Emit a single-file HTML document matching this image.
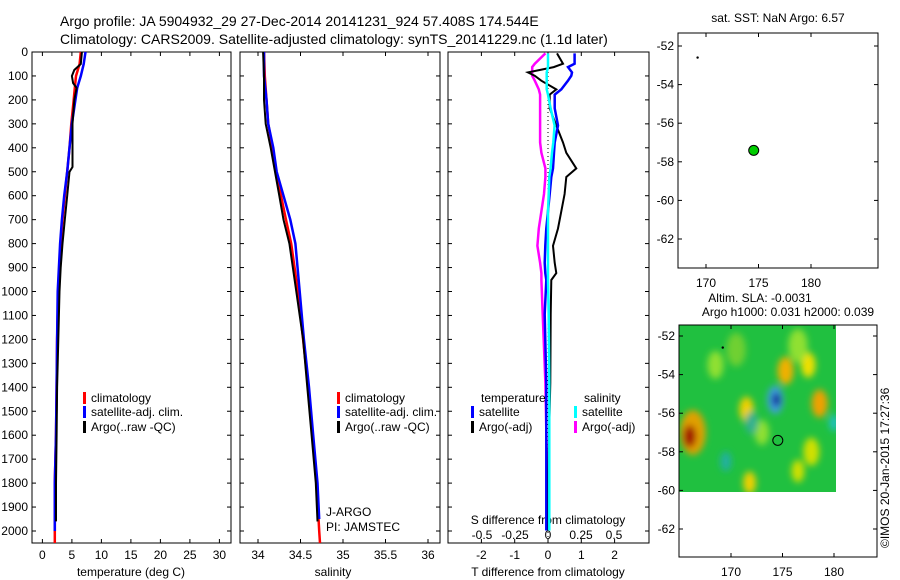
<!DOCTYPE html>
<html><head><meta charset="utf-8">
<style>
body{margin:0;background:#fff;}
svg{display:block;font-family:"Liberation Sans",sans-serif;}
text{fill:#000;}
</style></head>
<body>
<svg id="chart" width="900" height="580" viewBox="0 0 900 580">
<defs>
<filter id="blur" x="-20%" y="-20%" width="140%" height="140%"><feGaussianBlur stdDeviation="3.5"/></filter>
<clipPath id="mapclip"><rect x="679" y="325" width="157" height="167"/></clipPath>
</defs>
<text x="60" y="26" font-size="14">Argo profile: JA 5904932_29 27-Dec-2014 20141231_924 57.408S 174.544E</text>
<text x="60" y="44" font-size="14">Climatology: CARS2009. Satellite-adjusted climatology: synTS_20141229.nc (1.1d later)</text>
<g id="g"></g>
</svg>
<script>
// ---- data ----
const depthTicks=[0,100,200,300,400,500,600,700,800,900,1000,1100,1200,1300,1400,1500,1600,1700,1800,1900,2000];
const tTicks=[0,5,10,15,20,25,30];
const sTicks=[34,34.5,35,35.5,36];
const dTTicks=[-2,-1,0,1,2];
const dSTicks=[-0.5,-0.25,0,0.25,0.5];
const dSTickLabels=["-0.5","-0.25","0","0.25","0.5"];

const tClimDepth=[0,50,100,150,200,300,400,500,600,700,800,900,1000,1200,1400,1600,1800,2000,2050];
const tClimVal=[6.5,6.3,5.7,5.5,5.3,4.9,4.6,4.2,3.8,3.4,3.1,2.9,2.7,2.5,2.4,2.3,2.1,2.1,2.1];
const tSatDepth=[0,50,100,150,200,300,400,500,600,700,800,900,1000,1200,1400,1600,1800,2000];
const tSatVal=[7.3,7.0,6.5,5.9,5.6,5.0,4.6,4.2,3.7,3.3,3.0,2.8,2.6,2.5,2.4,2.3,2.1,2.1];
const tArgoDepth=[0,50,75,100,130,150,200,300,400,480,500,600,700,800,900,1000,1200,1400,1600,1800,1960];
const tArgoVal=[6.7,6.5,5.4,5.0,5.2,5.8,5.4,5.1,5.1,5.1,4.6,4.2,3.8,3.4,3.1,2.9,2.7,2.5,2.4,2.3,2.3];

const sClimDepth=[0,100,200,300,400,500,600,700,800,1000,1200,1400,1600,1800,2000,2050];
const sClimVal=[34.07,34.08,34.1,34.12,34.17,34.21,34.27,34.33,34.39,34.47,34.53,34.59,34.64,34.69,34.72,34.73];
const sSatDepth=[0,100,200,300,400,500,600,700,800,1000,1200,1400,1600,1800,1950];
const sSatVal=[34.07,34.07,34.1,34.12,34.18,34.22,34.3,34.38,34.44,34.49,34.54,34.6,34.65,34.7,34.72];
const sArgoDepth=[0,100,200,300,400,500,600,700,800,1000,1200,1400,1600,1800,1960];
const sArgoVal=[34.06,34.07,34.07,34.09,34.15,34.2,34.25,34.3,34.37,34.45,34.53,34.58,34.63,34.68,34.7];

const dDepth=[6,49,63,85,99,120,156,178,235,307,378,421,486,522,593,665,737,809,880,923,952,1095,1382,1669,1998];
const dTArgo=[0.27,0.45,0.17,-0.6,-0.4,-0.2,0.25,0.05,0.05,0.25,0.45,0.55,0.85,0.55,0.5,0.4,0.3,0.15,0.2,0.25,0.1,0.08,0.07,0.02,0];
const dTSat=[0.8,0.8,0.6,0.72,0.7,0.6,0.4,0.2,0.2,0.3,0.2,0.18,0.15,0.1,0.05,0,-0.05,-0.08,-0.1,-0.08,-0.05,-0.1,-0.05,-0.05,-0.05];
const dSSat=[0,0,0,-0.01,-0.01,-0.01,-0.01,0,0.02,0.05,0.04,0.03,0.02,0.01,0.005,0,0,0,0,0,0,0.005,0.01,0.01,0.01];
const dSArgo=[-0.02,-0.1,-0.12,-0.12,-0.12,-0.1,-0.07,-0.06,-0.06,-0.06,-0.06,-0.05,-0.02,-0.02,-0.03,-0.05,-0.07,-0.08,-0.06,-0.05,-0.05,-0.04,-0.02,-0.01,0];

const latTicks=[-52,-54,-56,-58,-60,-62];
const lonTicks=[170,175,180];
const argoPos=[174.544,-57.408];
const slaBlobLon=[166.3,166,171.5,175.3,178.6,177.5,174.3,174.4,168.5,171.8,173,177.8,180,176.5,172,169.5,170.5,176.5];
const slaBlobLat=[-57,-57.2,-55.8,-53.8,-55.5,-53.5,-55.3,-55.3,-53.5,-59.6,-57,-58,-56.5,-59,-56.5,-58.5,-52.7,-52.5];
const slaBlobR=[16,8,9,10,10,9,10,5,10,8,9,10,6,8,8,7,12,12];
const slaBlobCol=["#e0a000","#a01000","#f0d000","#f0b000","#f0a000","#f0e000","#40a0e0","#000090","#90e030","#f0d000","#90e030","#d0e000","#20c0c0","#d0e000","#30b090","#20b0a0","#70d030","#90e030"];

// ---- scales ----
const yD=d=>52+d*0.2395;
const xT=t=>42.4+t*5.9;
const xS=s=>258+(s-34)*85;
const xDT=t=>548+t*33.3;
const xDS=s=>548+s*132;
const mLon1=l=>706+(l-170)*10.5, mLat1=l=>46+(-52-l)*19.3;
const mLon2=l=>731+(l-170)*10.3, mLat2=l=>336+(-52-l)*19.3;
const PB=543;

const NS='http://www.w3.org/2000/svg';
const G=document.getElementById('g');
function mk(tag,attrs,parent){const e=document.createElementNS(NS,tag);for(const k in attrs)e.setAttribute(k,attrs[k]);(parent||G).appendChild(e);return e;}
function txt(x,y,s,size,anchor,parent){const e=mk('text',{x:x,y:y,'font-size':size||12,'text-anchor':anchor||'start'},parent);e.textContent=s;return e;}
function line(xs,ys,col,w,name){const pts=xs.map((x,i)=>x.toFixed(1)+','+ys[i].toFixed(1)).join(' ');
 const p=mk('polyline',{points:pts,fill:'none',stroke:col,'stroke-width':w||2});
 
 return p;}
function box(x1,y1,x2,y2,name){const r=mk('rect',{x:x1,y:y1,width:x2-x1,height:y2-y1,fill:'none',stroke:'#000','stroke-width':1});
 
 }
function depthAxis(x1,x2,labels){depthTicks.forEach(d=>{const y=yD(d);mk('line',{x1:x1,x2:x1+4,y1:y,y2:y,stroke:'#000'});mk('line',{x1:x2-4,x2:x2,y1:y,y2:y,stroke:'#000'});
 if(labels){const t=txt(x1-4,y+4,String(d),12,'end');
 }});}
function xAxis(vals,labs,sc,x1,x2){vals.forEach((v,i)=>{const x=sc(v);mk('line',{x1:x,x2:x,y1:52,y2:56,stroke:'#000'});mk('line',{x1:x,x2:x,y1:PB-4,y2:PB,stroke:'#000'});
 const t=txt(x,559,labs[i],12,'middle');
 });}
function legendEntry(x,y,col,s){mk('rect',{x:x,y:y-10,width:3,height:12,fill:col});const t=txt(x+8,y,s,12);
 
 }

// Panel 1 temperature
box(32,52,231,PB,'temperature-panel');
depthAxis(32,231,true);
xAxis(tTicks,tTicks.map(String),xT,32,231);
line(tClimVal.map(xT),tClimDepth.map(yD),'#f00',2.5,'temperature-climatology-line');
line(tSatVal.map(xT),tSatDepth.map(yD),'#00f',2.5,'temperature-satellite-line');
line(tArgoVal.map(xT),tArgoDepth.map(yD),'#000',2,'temperature-argo-line');
let t1=txt(131,576,'temperature (deg C)',12,'middle');
legendEntry(83,402,'#f00','climatology');legendEntry(83,416,'#00f','satellite-adj. clim.');legendEntry(83,431,'#000','Argo(..raw -QC)');

// Panel 2 salinity
box(240,52,440,PB,'salinity-panel');
depthAxis(240,440,false);
xAxis(sTicks,sTicks.map(String),xS,240,440);
line(sClimVal.map(xS),sClimDepth.map(yD),'#f00',2.5,'salinity-climatology-line');
line(sSatVal.map(xS),sSatDepth.map(yD),'#00f',2.5,'salinity-satellite-line');
line(sArgoVal.map(xS),sArgoDepth.map(yD),'#000',2,'salinity-argo-line');
let t2=txt(333,576,'salinity',12,'middle');
legendEntry(337,402,'#f00','climatology');legendEntry(337,416,'#00f','satellite-adj. clim.');legendEntry(337,431,'#000','Argo(..raw -QC)');
txt(326,516,'J-ARGO',12);txt(326,531,'PI: JAMSTEC',12);

// Panel 3 differences
box(448,52,649,PB,'difference-panel');
depthAxis(448,649,false);
xAxis(dTTicks,dTTicks.map(String),xDT,448,649);
mk('line',{x1:548,x2:548,y1:52,y2:PB,stroke:'#000','stroke-dasharray':'1,3'});
dSTicks.forEach((v,i)=>{const t=txt(xDS(v),539,dSTickLabels[i],12,'middle');});
txt(548,524,'S difference from climatology',12,'middle');
let t3=txt(548,576,'T difference from climatology',12,'middle');
line(dSArgo.map(xDS),dDepth.map(yD),'#f0f',2.5,'salinity-argo-diff-line');
line(dTArgo.map(xDT),dDepth.map(yD),'#000',2,'temperature-argo-diff-line');
line(dTSat.map(xDT),dDepth.map(yD),'#00f',2.5,'temperature-satellite-diff-line');
line(dSSat.map(xDS),dDepth.map(yD),'#0ff',2.5,'salinity-satellite-diff-line');
txt(481,402,'temperature',12);txt(584,402,'salinity',12);
legendEntry(471,416,'#00f','satellite');legendEntry(471,431,'#000','Argo(-adj)');
legendEntry(574,416,'#0ff','satellite');legendEntry(574,431,'#f0f','Argo(-adj)');

// Map 1 SST
txt(778,22,'sat. SST: NaN Argo: 6.57',12,'middle');
box(678,33,878,268,'sst-map');
latTicks.forEach(l=>{const y=mLat1(l);mk('line',{x1:678,x2:682,y1:y,y2:y,stroke:'#000'});mk('line',{x1:874,x2:878,y1:y,y2:y,stroke:'#000'});txt(674,y+4,String(l),12,'end');});
lonTicks.forEach(l=>{const x=mLon1(l);mk('line',{x1:x,x2:x,y1:33,y2:37,stroke:'#000'});mk('line',{x1:x,x2:x,y1:264,y2:268,stroke:'#000'});txt(x,287,String(l),12,'middle');});
mk('circle',{cx:mLon1(169.2),cy:mLat1(-52.6),r:1.2,fill:'#000'});
const dot=mk('circle',{cx:mLon1(argoPos[0]),cy:mLat1(argoPos[1]),r:5,fill:'#0c0',stroke:'#000'});


// Map 2 SLA
txt(760,302,'Altim. SLA: -0.0031',12,'middle');
txt(788,316,'Argo h1000: 0.031 h2000: 0.039',12,'middle');
const mg=mk('g',{'clip-path':'url(#mapclip)'});
mk('rect',{x:679,y:325,width:157,height:167,fill:'#20c040'},mg);
const bg=mk('g',{filter:'url(#blur)'},mg);
slaBlobLon.forEach((l,i)=>{const c=mk('ellipse',{cx:mLon2(l),cy:mLat2(slaBlobLat[i]),rx:slaBlobR[i]*0.8,ry:slaBlobR[i]*1.4,fill:slaBlobCol[i]},bg);
 
 });
box(679,325,877,557,'sla-map');
latTicks.forEach(l=>{const y=mLat2(l);mk('line',{x1:679,x2:683,y1:y,y2:y,stroke:'#000'});mk('line',{x1:873,x2:877,y1:y,y2:y,stroke:'#000'});txt(675,y+4,String(l),12,'end');});
lonTicks.forEach(l=>{const x=mLon2(l);mk('line',{x1:x,x2:x,y1:325,y2:329,stroke:'#000'});mk('line',{x1:x,x2:x,y1:553,y2:557,stroke:'#000'});txt(x,576,String(l),12,'middle');});
mk('circle',{cx:mLon2(169.2),cy:mLat2(-52.6),r:1.2,fill:'#000'});
mk('circle',{cx:mLon2(argoPos[0]),cy:mLat2(argoPos[1]),r:5,fill:'none',stroke:'#000'});
const cr=txt(0,0,'©IMOS 20-Jan-2015 17:27:36',12,'start');cr.setAttribute('transform','translate(889,548) rotate(-90)');

</script>
</body></html>
